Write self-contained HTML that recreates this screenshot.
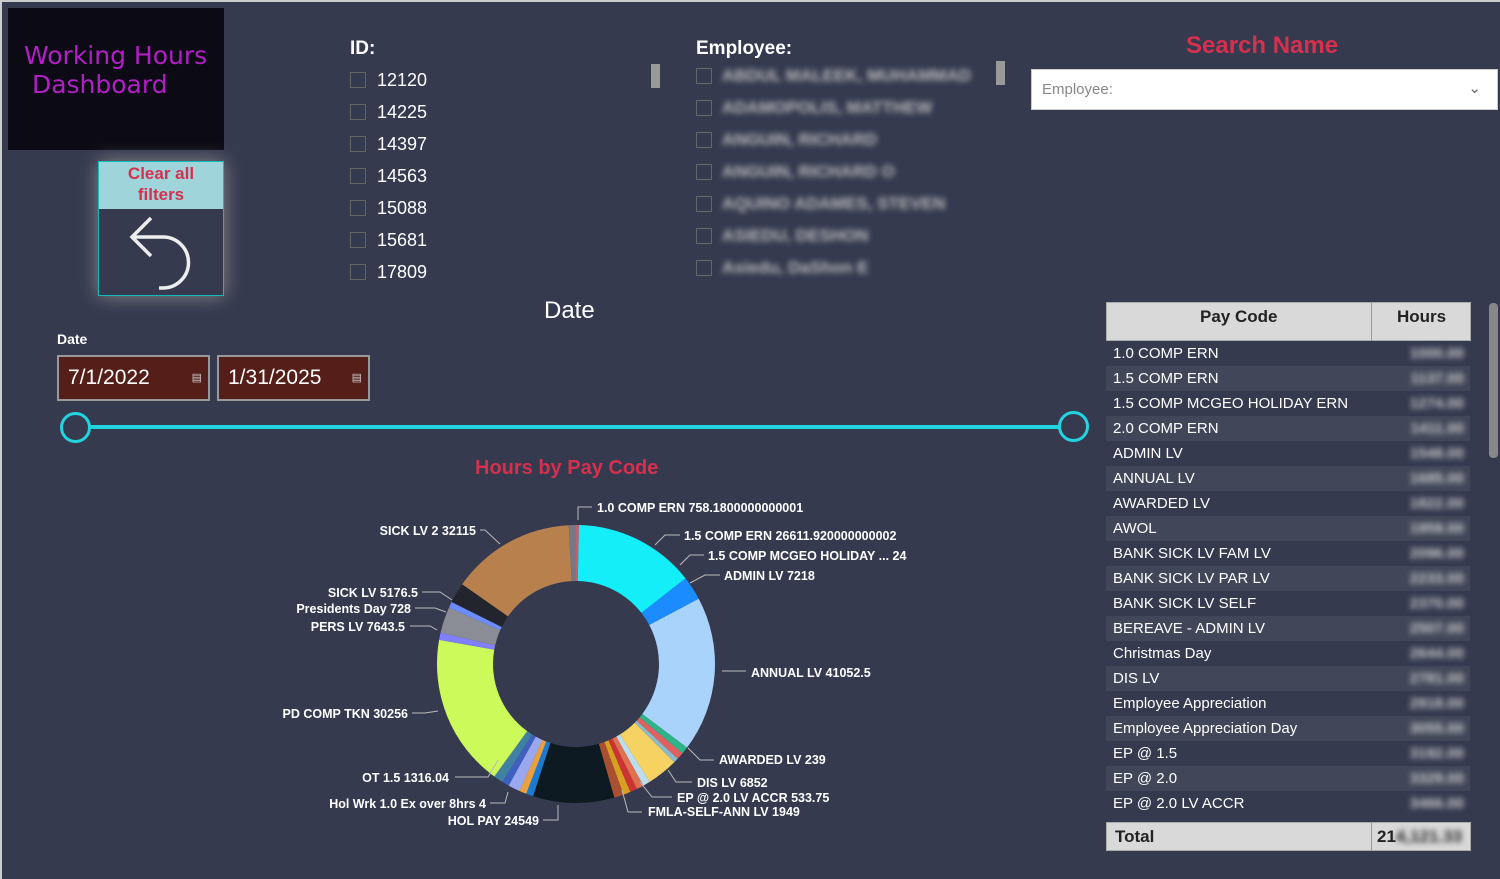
<!DOCTYPE html>
<html><head><meta charset="utf-8"><style>
*{margin:0;padding:0;box-sizing:border-box}
body{width:1500px;height:879px;background:#353a4f;font-family:"Liberation Sans",sans-serif;position:relative;overflow:hidden;color:#fff}
.abs{position:absolute}
.cb{position:absolute;width:16px;height:16px;border:1px solid #666;background:#353a4f}
.idt{position:absolute;font-size:18px;color:#fff}
.emp{position:absolute;font-size:17px;font-weight:bold;color:#bbb;filter:blur(3px)}
.row{position:absolute;left:1106px;width:364px;height:25px;font-size:15px;line-height:25px;padding-left:7px}
.row .v{position:absolute;right:6px;top:0;color:#ccc;filter:blur(3px);font-weight:bold}
.lbl{font-family:"Liberation Sans",sans-serif;font-size:12.5px;font-weight:bold;fill:#fff}
</style></head><body>
<div class="abs" style="left:0;top:0;width:1500px;height:2px;background:#ccc"></div>
<div class="abs" style="left:0;top:0;width:2px;height:879px;background:#ccc"></div>
<div class="abs" style="left:8px;top:8px;width:216px;height:142px;background:#0c0a14"></div>
<div class="abs" style="left:24px;top:41px;font-family:'DejaVu Sans',sans-serif;font-size:25px;color:#b31fc7;line-height:29px">Working Hours<br>&nbsp;Dashboard</div>
<div class="abs" style="left:98px;top:161px;width:126px;height:135px;border:1px solid #1bb;box-shadow:0 0 18px #888;background:#353a4f">
<div style="height:47px;background:#9fd4db;color:#d6304e;font-weight:bold;font-size:17px;text-align:center;line-height:21px;padding-top:1px">Clear all<br>filters</div>
</div>
<svg class="abs" style="left:99px;top:209px" width="124" height="86" viewBox="0 0 124 86"><path d="M33 28 H64 A25 25 0 0 1 64 79 H60" stroke="#eee" stroke-width="3.5" fill="none"/><path d="M52 9 L33 28 L52 47" stroke="#eee" stroke-width="3.5" fill="none"/></svg>
<div class="abs" style="left:350px;top:38px;font-size:19px;font-weight:bold">ID:</div>
<div class="cb" style="left:350px;top:72px"></div><div class="idt" style="left:377px;top:70px">12120</div>
<div class="cb" style="left:350px;top:104px"></div><div class="idt" style="left:377px;top:102px">14225</div>
<div class="cb" style="left:350px;top:136px"></div><div class="idt" style="left:377px;top:134px">14397</div>
<div class="cb" style="left:350px;top:168px"></div><div class="idt" style="left:377px;top:166px">14563</div>
<div class="cb" style="left:350px;top:200px"></div><div class="idt" style="left:377px;top:198px">15088</div>
<div class="cb" style="left:350px;top:232px"></div><div class="idt" style="left:377px;top:230px">15681</div>
<div class="cb" style="left:350px;top:264px"></div><div class="idt" style="left:377px;top:262px">17809</div>
<div class="abs" style="left:651px;top:64px;width:9px;height:24px;background:#999"></div>
<div class="abs" style="left:696px;top:38px;font-size:19px;font-weight:bold">Employee:</div>
<div class="cb" style="left:696px;top:68px"></div><div class="emp" style="left:722px;top:66px">ABDUL MALEEK, MUHAMMAD</div>
<div class="cb" style="left:696px;top:100px"></div><div class="emp" style="left:722px;top:98px">ADAMOPOLIS, MATTHEW</div>
<div class="cb" style="left:696px;top:132px"></div><div class="emp" style="left:722px;top:130px">ANGUIN, RICHARD</div>
<div class="cb" style="left:696px;top:164px"></div><div class="emp" style="left:722px;top:162px">ANGUIN, RICHARD O</div>
<div class="cb" style="left:696px;top:196px"></div><div class="emp" style="left:722px;top:194px">AQUINO ADAMES, STEVEN</div>
<div class="cb" style="left:696px;top:228px"></div><div class="emp" style="left:722px;top:226px">ASIEDU, DESHON</div>
<div class="cb" style="left:696px;top:260px"></div><div class="emp" style="left:722px;top:258px">Asiedu, DaShon E</div>
<div class="abs" style="left:996px;top:61px;width:9px;height:24px;background:#999"></div>
<div class="abs" style="left:1186px;top:32px;font-size:24px;font-weight:bold;color:#d6304e">Search Name</div>
<div class="abs" style="left:1031px;top:69px;width:467px;height:41px;background:#fff;border:1px solid #ccc;color:#888;font-size:15px;line-height:40px;padding-left:10px">Employee:<span style="position:absolute;right:16px;top:-1px;color:#666">&#8964;</span></div>
<div class="abs" style="left:544px;top:297px;font-size:24px">Date</div>
<div class="abs" style="left:57px;top:331px;font-size:14px;font-weight:bold">Date</div>
<div class="abs" style="left:57px;top:355px;width:153px;height:46px;background:#561e18;border:2px solid #999;font-size:21px;line-height:42px;padding-left:9px">7/1/2022<span style="position:absolute;right:6px;font-size:11px;color:#ccc">&#9636;</span></div>
<div class="abs" style="left:217px;top:355px;width:153px;height:46px;background:#561e18;border:2px solid #999;font-size:21px;line-height:42px;padding-left:9px">1/31/2025<span style="position:absolute;right:6px;font-size:11px;color:#ccc">&#9636;</span></div>
<div class="abs" style="left:75px;top:425px;width:1000px;height:4px;background:#23d3e0"></div>
<div class="abs" style="left:60px;top:412px;width:31px;height:31px;border-radius:50%;border:3px solid #23d3e0;background:#353a4f"></div>
<div class="abs" style="left:1058px;top:411px;width:31px;height:31px;border-radius:50%;border:3px solid #23d3e0;background:#353a4f"></div>
<div class="abs" style="left:475px;top:457px;font-size:20px;font-weight:bold;color:#d6304e">Hours by Pay Code</div>
<svg class="abs" style="left:0;top:0" width="1100" height="879" id="pie">
<g id="segs"></g>
<g stroke="#bbb" stroke-width="1" fill="none">
<path d="M578 520 V507 H592"/><path d="M655 545 L665 535 H680"/><path d="M680 565 L690 555 H704"/><path d="M690 583 L705 575 H720"/>
<path d="M722 671 H746"/><path d="M688 748 L700 760 H714"/><path d="M668 770 L676 782 H692"/><path d="M640 782 L652 797 H672"/><path d="M622 790 L628 812 H642"/>
<path d="M500 544 L485 530 H480"/><path d="M452 600 L440 592 H422"/><path d="M446 612 L435 608 H415"/><path d="M437 630 L430 626 H410"/><path d="M438 711 L425 713 H412"/><path d="M498 760 L488 777 H455"/><path d="M508 792 L505 803 H490"/><path d="M558 805 V820 H543"/>
</g>
<g class="lbl">
<text x="597" y="512">1.0 COMP ERN 758.1800000000001</text>
<text x="684" y="540">1.5 COMP ERN 26611.920000000002</text>
<text x="708" y="560">1.5 COMP MCGEO HOLIDAY ... 24</text>
<text x="724" y="580">ADMIN LV 7218</text>
<text x="751" y="677">ANNUAL LV 41052.5</text>
<text x="719" y="764">AWARDED LV 239</text>
<text x="697" y="787">DIS LV 6852</text>
<text x="677" y="802">EP @ 2.0 LV ACCR 533.75</text>
<text x="648" y="816">FMLA-SELF-ANN LV 1949</text>
<text x="476" y="535" text-anchor="end">SICK LV 2 32115</text>
<text x="418" y="597" text-anchor="end">SICK LV 5176.5</text>
<text x="411" y="613" text-anchor="end">Presidents Day 728</text>
<text x="405" y="631" text-anchor="end">PERS LV 7643.5</text>
<text x="408" y="718" text-anchor="end">PD COMP TKN 30256</text>
<text x="449" y="782" text-anchor="end">OT 1.5 1316.04</text>
<text x="486" y="808" text-anchor="end">Hol Wrk 1.0 Ex over 8hrs 4</text>
<text x="539" y="825" text-anchor="end">HOL PAY 24549</text>
</g>
</svg>
<div class="abs" style="left:1106px;top:302px;width:365px;height:39px;background:#d9d9d9;border:1px solid #aaa;color:#222;font-size:17px;font-weight:bold;line-height:28px">
<span style="position:absolute;left:93px">Pay Code</span><span style="position:absolute;left:264px;top:0;width:1px;height:38px;background:#999"></span><span style="position:absolute;left:290px">Hours</span></div>
<div id="rows"></div>
<div class="abs" style="left:1106px;top:822px;width:365px;height:29px;background:#d9d9d9;border:1px solid #aaa;color:#222;font-size:17px;font-weight:bold;line-height:28px;padding-left:8px">Total<span style="position:absolute;left:264px;top:0;width:1px;height:28px;background:#999"></span><span style="position:absolute;left:270px">21<span style="filter:blur(3px)">4,121.33</span></span></div>
<div class="abs" style="left:1489px;top:303px;width:9px;height:155px;background:#888;border-radius:4px"></div>
<script>
var names=["1.0 COMP ERN","1.5 COMP ERN","1.5 COMP MCGEO HOLIDAY ERN","2.0 COMP ERN","ADMIN LV","ANNUAL LV","AWARDED LV","AWOL","BANK SICK LV FAM LV","BANK SICK LV PAR LV","BANK SICK LV SELF","BEREAVE - ADMIN LV","Christmas Day","DIS LV","Employee Appreciation","Employee Appreciation Day","EP @ 1.5","EP @ 2.0","EP @ 2.0 LV ACCR"];
var h="";names.forEach(function(n,i){h+='<div class="row" style="top:'+(341+i*25)+'px;background:'+(i%2?'#414759':'#353a4f')+'">'+n+'<span class="v">'+(1000+i*137)+'.00</span></div>'});
document.getElementById('rows').innerHTML=h;
var segs=[[0,1.2,"#c06070"],[1.2,52,"#13eef8"],[52,62,"#1a8cff"],[62,127,"#a9d3fa"],[127,130,"#2fb48a"],[130,133,"#e06060"],[133,135,"#8bc"],[135,148,"#f5d261"],[148,151,"#bde"],[151,154,"#e07050"],[154,157,"#c33"],[157,160,"#d8a020"],[160,164,"#a85030"],[164,198,"#0d1a22"],[198,201,"#1a7ad0"],[201,204,"#e8a040"],[204,209,"#9aa8f0"],[209,212,"#4060c0"],[212,216,"#4080a0"],[216,280,"#ccfa5a"],[280,283,"#8080ff"],[283,294,"#8a8c96"],[294,296.5,"#6a8cff"],[296.5,305,"#23252e"],[305,357,"#b8804d"],[357,360,"#778"]];
var cx=576,cy=664,R=139,r=83,g="";
function pt(a,rad){a=(a-90)*Math.PI/180;return (cx+rad*Math.cos(a)).toFixed(2)+" "+(cy+rad*Math.sin(a)).toFixed(2)}
segs.forEach(function(s){var l=(s[1]-s[0])>180?1:0;g+='<path fill="'+s[2]+'" d="M'+pt(s[0],R)+' A'+R+' '+R+' 0 '+l+' 1 '+pt(s[1],R)+' L'+pt(s[1],r)+' A'+r+' '+r+' 0 '+l+' 0 '+pt(s[0],r)+'Z"/>'});
document.getElementById('segs').innerHTML=g;
</script>
</body></html>
